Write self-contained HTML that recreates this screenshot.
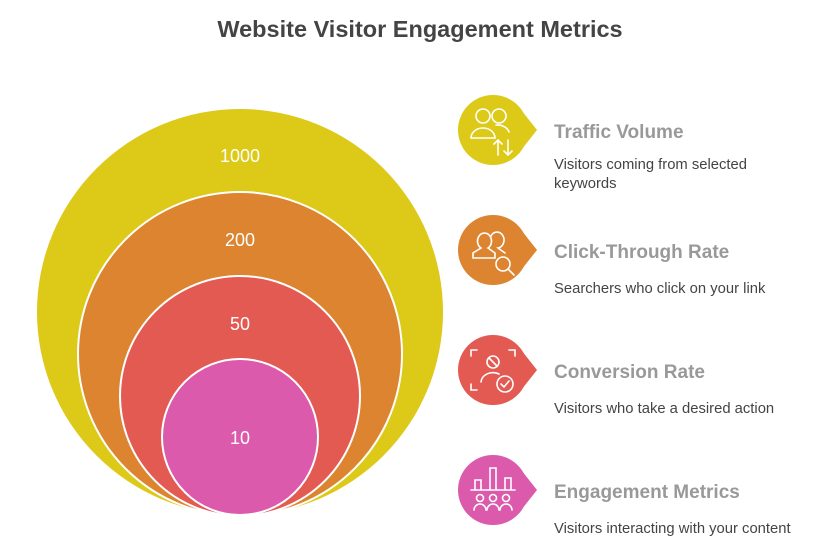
<!DOCTYPE html>
<html><head><meta charset="utf-8"><style>
body{margin:0;background:#fff;width:840px;height:547px;overflow:hidden;font-family:"Liberation Sans",sans-serif}
</style></head><body>
<svg width="840" height="547" viewBox="0 0 840 547" xmlns="http://www.w3.org/2000/svg" font-family="Liberation Sans, sans-serif">
<text x="420" y="37" text-anchor="middle" font-size="23.5" font-weight="bold" fill="#444">Website Visitor Engagement Metrics</text>
<circle cx="240" cy="312" r="203" fill="#DDC918"/>
<circle cx="240" cy="354" r="162" fill="#DD8430" stroke="#fff" stroke-width="2"/>
<circle cx="240" cy="396" r="120" fill="#E35A53" stroke="#fff" stroke-width="2"/>
<circle cx="240" cy="437" r="78" fill="#DB5AAB" stroke="#fff" stroke-width="2"/>
<g fill="#fff" font-size="18" text-anchor="middle">
<text x="240" y="162">1000</text><text x="240" y="246">200</text><text x="240" y="330">50</text><text x="240" y="444">10</text>
</g>
<g stroke="#fff" stroke-width="1.6" fill="none" stroke-linecap="round">
<g transform="translate(493,130)">
<circle r="35" fill="#DDC918" stroke="none"/><path d="M25,-24 L44,0 L25,24Z" fill="#DDC918" stroke="none"/>
<circle cx="-10" cy="-14" r="7"/><path d="M-22,8 A12,10 0 0 1 2,8 Z"/>
<circle cx="6" cy="-14" r="7"/><path d="M3,-5 A12,10 0 0 1 16,2"/>
<path d="M5,25 V10 M1,14 L5,10 L9,14 M15,10 V25 M11,21 L15,25 L19,21"/>
</g>
<g transform="translate(493,250)">
<circle r="35" fill="#DD8430" stroke="none"/><path d="M25,-24 L44,0 L25,24Z" fill="#DD8430" stroke="none"/>
<path d="M-20,8 V3 L-12,-2 A7,8 0 1 1 -5,-2 L2,3 V8 Z"/><path d="M-2,-14 A7,8 0 1 1 5,-2 L12,3"/>
<circle cx="10" cy="14" r="7"/><path d="M15,19 L21,25"/>
</g>
<g transform="translate(493,370)">
<circle r="35" fill="#E35A53" stroke="none"/><path d="M25,-24 L44,0 L25,24Z" fill="#E35A53" stroke="none"/>
<path d="M-22,-14 V-20 H-16 M16,-20 H22 V-14 M-22,14 V20 H-16"/>
<circle cx="0" cy="-8" r="6"/><path d="M-4,-12 L4,-4"/><path d="M-12,12 A12,10 0 0 1 6,4"/>
<circle cx="12" cy="14" r="8"/><path d="M8,14 L11,17 L16,11"/>
</g>
<g transform="translate(493,490)">
<circle r="35" fill="#DB5AAB" stroke="none"/><path d="M25,-24 L44,0 L25,24Z" fill="#DB5AAB" stroke="none"/>
<path d="M-18,0 V-10 H-12 V0 M-3,0 V-22 H3 V0 M12,0 V-12 H18 V0 M-22,0 H22"/>
<circle cx="-13" cy="8" r="3.5"/><circle cx="0" cy="8" r="3.5"/><circle cx="13" cy="8" r="3.5"/>
<path d="M-19,20 A6,6 0 0 1 -7,20 M-6,20 A6,6 0 0 1 6,20 M7,20 A6,6 0 0 1 19,20"/>
</g>
</g>
<g font-size="19" font-weight="bold" fill="#999">
<text x="554" y="138">Traffic Volume</text>
<text x="554" y="258">Click-Through Rate</text>
<text x="554" y="378">Conversion Rate</text>
<text x="554" y="498">Engagement Metrics</text>
</g>
<g font-size="14.8" fill="#444">
<text x="554" y="169">Visitors coming from selected</text>
<text x="554" y="188">keywords</text>
<text x="554" y="293">Searchers who click on your link</text>
<text x="554" y="413">Visitors who take a desired action</text>
<text x="554" y="533">Visitors interacting with your content</text>
</g>
</svg>
</body></html>
